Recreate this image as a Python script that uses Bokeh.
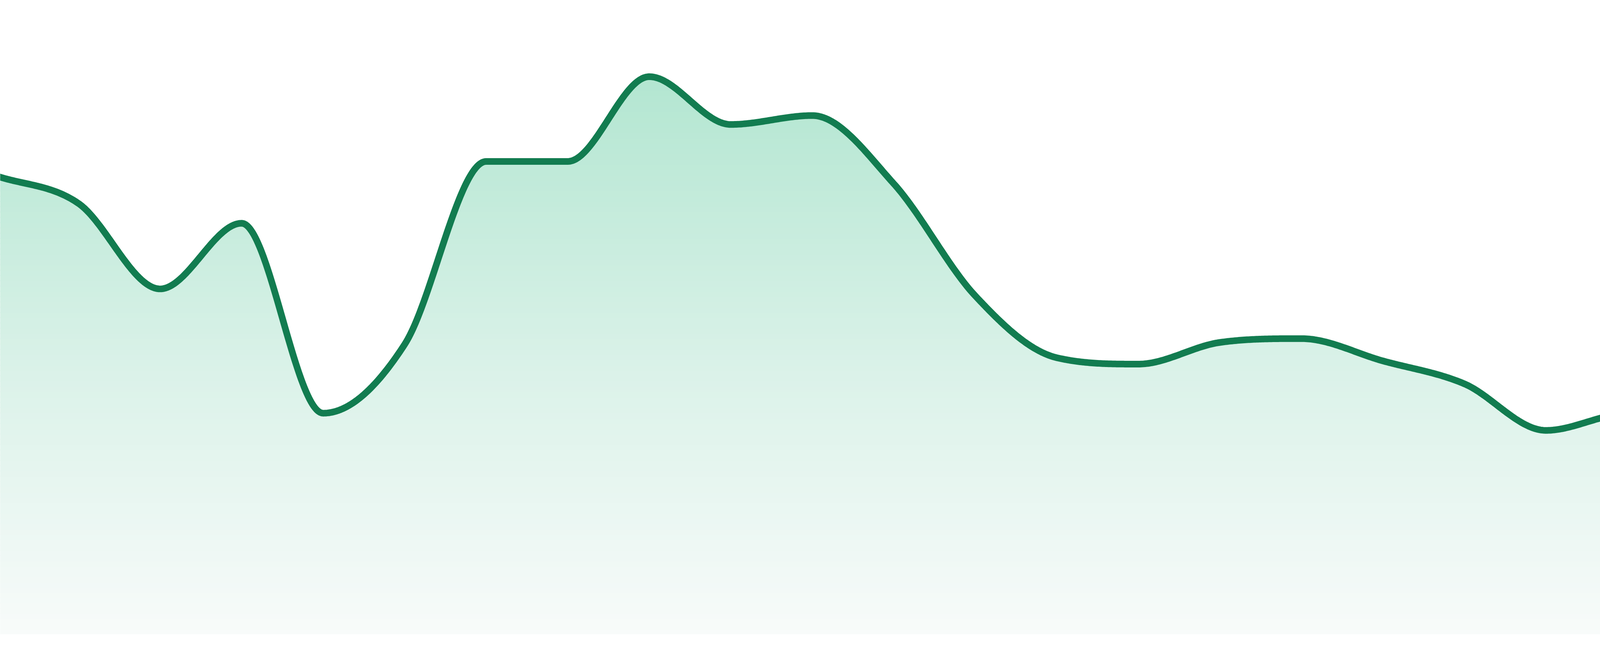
import numpy as np
from bokeh.plotting import figure
from bokeh.models import Range1d
from bokeh.embed import file_html
from bokeh.resources import INLINE

# ---- data ----
points = list(range(24))
values = [71.9, 67.6, 54.2, 64.5, 34.7, 45.5, 74.2, 74.2, 87.5, 80.0, 81.4, 70.7,
          53.1, 43.4, 42.4, 45.8, 46.4, 42.9, 39.3, 32.0, 34.6, 32.9, 29.2, 33.0]

LINE_COLOR = "#127c50"
Y_MAX = 99.5


def monotone_curve(xs, ys, samples=60):
    """Monotone cubic (Fritsch-Carlson) rendering of the series, as the chart draws it."""
    xs = np.asarray(xs, float)
    ys = np.asarray(ys, float)
    n = len(xs)
    dk = np.diff(ys) / np.diff(xs)
    m = np.zeros(n)
    m[0] = dk[0]
    m[-1] = dk[-1]
    for i in range(1, n - 1):
        if dk[i - 1] == 0 or dk[i] == 0 or np.sign(dk[i - 1]) != np.sign(dk[i]):
            m[i] = 0.0
        else:
            m[i] = (dk[i - 1] + dk[i]) / 2
    for i in range(n - 1):
        if dk[i] == 0:
            m[i] = m[i + 1] = 0.0
            continue
        a = m[i] / dk[i]
        b = m[i + 1] / dk[i]
        tau = a * a + b * b
        if tau > 9:
            t = 3 / np.sqrt(tau)
            m[i] = a * t * dk[i]
            m[i + 1] = b * t * dk[i]
    out_x, out_y = [], []
    for i in range(n - 1):
        h = xs[i + 1] - xs[i]
        t = np.linspace(0, 1, samples, endpoint=(i == n - 2))
        h00 = 2 * t**3 - 3 * t**2 + 1
        h10 = t**3 - 2 * t**2 + t
        h01 = -2 * t**3 + 3 * t**2
        h11 = t**3 - t**2
        out_x.append(xs[i] + t * h)
        out_y.append(h00 * ys[i] + h10 * h * m[i] + h01 * ys[i + 1] + h11 * h * m[i + 1])
    return np.concatenate(out_x), np.concatenate(out_y)


cx, cy = monotone_curve(points, values)

W, H = 4784, 1664
BOTTOM = 40
# the page margin hides the outer 8px of the original chart on each side
EDGE = 8 / (4800 / (points[-1] - points[0]))

p = figure(width=W, height=H, output_backend="svg", toolbar_location=None,
           x_range=Range1d(points[0] + EDGE, points[-1] - EDGE), y_range=Range1d(0, Y_MAX),
           min_border_left=0, min_border_right=0, min_border_top=0,
           min_border_bottom=BOTTOM, background_fill_color="white",
           border_fill_color="white")
p.xaxis.visible = False
p.yaxis.visible = False
p.grid.visible = False
p.outline_line_color = None

# vertical gradient fill built from bands
stops = [(0.0, (172, 226, 203)), (0.12, (179, 230, 209)), (0.59, (219, 242, 233)), (1.0, (248, 251, 250))]


def grad_color(frac_from_top):
    for (f0, c0), (f1, c1) in zip(stops[:-1], stops[1:]):
        if frac_from_top <= f1:
            u = (frac_from_top - f0) / (f1 - f0)
            c = [round(c0[k] + (c1[k] - c0[k]) * u) for k in range(3)]
            return "#%02x%02x%02x" % tuple(c)
    return "#%02x%02x%02x" % stops[-1][1]


n_bands = 120
edges = np.linspace(0, Y_MAX, n_bands + 1)
for lo, hi in zip(edges[:-1], edges[1:]):
    if lo > cy.max():
        break
    mid = (lo + hi) / 2
    frac = 1 - mid / Y_MAX
    lo2 = max(lo - 0.15, 0)
    p.varea(x=cx, y1=np.minimum(cy, lo2), y2=np.minimum(cy, hi),
            fill_color=grad_color(frac), fill_alpha=1.0)

p.line(cx, cy, line_color=LINE_COLOR, line_width=17, line_join="round", line_cap="round")

open("out.html", "w").write(file_html(p, INLINE))
